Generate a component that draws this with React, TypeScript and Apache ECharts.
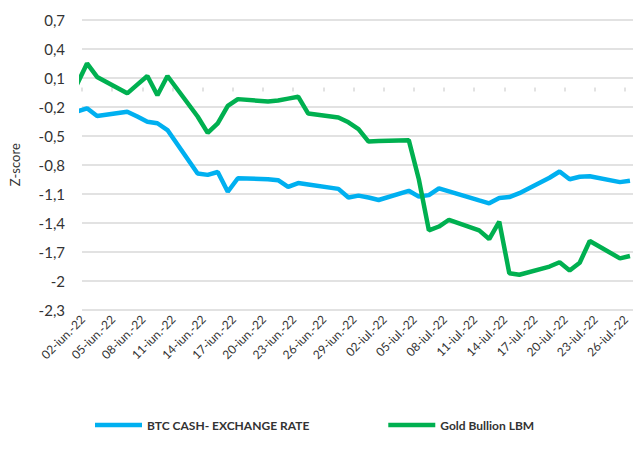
import React, { useEffect, useRef } from "react";
import * as echarts from "echarts";

const categories = [
  "01-iun.-22", "02-iun.-22", "03-iun.-22", "04-iun.-22", "05-iun.-22", "06-iun.-22", "07-iun.-22", "08-iun.-22",
  "09-iun.-22", "10-iun.-22", "11-iun.-22", "12-iun.-22", "13-iun.-22", "14-iun.-22", "15-iun.-22", "16-iun.-22",
  "17-iun.-22", "18-iun.-22", "19-iun.-22", "20-iun.-22", "21-iun.-22", "22-iun.-22", "23-iun.-22", "24-iun.-22",
  "25-iun.-22", "26-iun.-22", "27-iun.-22", "28-iun.-22", "29-iun.-22", "30-iun.-22",
  "01-iul.-22", "02-iul.-22", "03-iul.-22", "04-iul.-22", "05-iul.-22", "06-iul.-22", "07-iul.-22", "08-iul.-22",
  "09-iul.-22", "10-iul.-22", "11-iul.-22", "12-iul.-22", "13-iul.-22", "14-iul.-22", "15-iul.-22", "16-iul.-22",
  "17-iul.-22", "18-iul.-22", "19-iul.-22", "20-iul.-22", "21-iul.-22", "22-iul.-22", "23-iul.-22", "24-iul.-22",
  "25-iul.-22", "26-iul.-22",
];

const btcCash = [
  -0.25, -0.215, -0.295, null, null,
  -0.25, -0.3, -0.354, -0.37, -0.44, null, null,
  -0.89, -0.905, -0.875, -1.08, -0.94, null, null,
  -0.95, -0.96, -1.03, -0.99, -1.005, null, null,
  -1.05, -1.14, -1.12, -1.14,
  -1.165, null, null,
  -1.07, -1.13, -1.115, -1.045, -1.075, null, null,
  -1.17, -1.2, -1.145, -1.135, -1.095, null, null,
  -0.935, -0.87, -0.95, -0.925, -0.92, null, null,
  -0.98, -0.965,
];

const goldBullion = [
  0.03, 0.25, 0.11, null, null,
  -0.06, 0.03, 0.12, -0.08, 0.12, null, null,
  -0.3, -0.47, -0.37, -0.19, -0.12, null, null,
  -0.145, -0.135, -0.115, -0.095, -0.27, null, null,
  -0.31, -0.36, -0.43, -0.56,
  -0.555, null, null,
  -0.545, -0.95, -1.48, -1.44, -1.37, null, null,
  -1.48, -1.57, -1.39, -1.925, -1.94, null, null,
  -1.855, -1.81, -1.895, -1.815, -1.59, null, null,
  -1.77, -1.745,
];

const seriesNames = ["BTC CASH- EXCHANGE RATE", "Gold Bullion LBM"];
const seriesColors = ["#00b0f0", "#00b050"];

const yMin = -2.3;
const yMax = 0.7;
const yStep = 0.3;

const FONT = "Lato, 'Open Sans', sans-serif";
const TEXT = "#333333";
const GRID = "#d9d9d9";

// first shown category is index 1 (02-iun.-22); label every 3rd day from there
const everyThird = (index: number) => index >= 1 && (index - 1) % 3 === 0;

export default function App() {
  const ref = useRef<HTMLDivElement>(null);

  useEffect(() => {
    document.body.style.margin = "0";
    if (!ref.current) return;
    const chart = echarts.init(ref.current, undefined, { renderer: "svg" });
    const fmt = (v: number) => String(Number(v.toFixed(1))).replace(".", ",");
    chart.setOption({
      animation: false,
      grid: {
        left: 82,
        top: 20,
        width: 553,
        height: 289.5,
        containLabel: false,
        outerBoundsMode: "none",
      },
      legend: {
        left: 90,
        top: 414,
        itemWidth: 47,
        itemHeight: 4.5,
        itemGap: 79,
        icon: "rect",
        textStyle: { fontFamily: FONT, fontSize: 12, fontWeight: "bold", color: TEXT },
        data: seriesNames,
      },
      xAxis: [
        {
          type: "category",
          data: categories,
          min: 1,
          max: 55,
          boundaryGap: true,
          axisLine: { show: false, onZero: false },
          axisTick: { show: false },
          splitLine: { show: false },
          axisLabel: {
            interval: everyThird,
            rotate: 45,
            margin: 12,
            verticalAlign: "bottom",
            fontFamily: FONT,
            fontSize: 12,
            color: TEXT,
          },
        },
        {
          type: "category",
          data: categories,
          min: 1,
          max: 55,
          position: "bottom",
          boundaryGap: true,
          axisLine: { show: false, onZero: true },
          axisTick: { show: true, interval: everyThird, length: 4, lineStyle: { color: GRID, width: 1.5 } },
          axisLabel: { show: false },
          splitLine: { show: false },
        },
      ],
      yAxis: {
        type: "value",
        min: yMin,
        max: yMax,
        interval: yStep,
        name: "Z-score",
        nameLocation: "middle",
        nameGap: 61,
        nameTextStyle: { fontFamily: FONT, fontSize: 13, color: TEXT },
        axisLine: { show: false },
        axisTick: { show: false },
        splitLine: { lineStyle: { color: GRID, width: 1.5 } },
        axisLabel: { formatter: fmt, margin: 17, fontFamily: FONT, fontSize: 15, color: TEXT },
      },
      series: [
        {
          name: seriesNames[0],
          type: "line",
          data: btcCash,
          xAxisIndex: 0,
          symbol: "none",
          connectNulls: true,
          lineStyle: { width: 4.5, color: seriesColors[0] },
          itemStyle: { color: seriesColors[0] },
        },
        {
          name: seriesNames[1],
          type: "line",
          data: goldBullion,
          xAxisIndex: 0,
          symbol: "none",
          connectNulls: true,
          lineStyle: { width: 4.5, color: seriesColors[1] },
          itemStyle: { color: seriesColors[1] },
        },
      ],
    });
    return () => chart.dispose();
  }, []);

  return <div ref={ref} style={{ width: 633, height: 457 }} />;
}
